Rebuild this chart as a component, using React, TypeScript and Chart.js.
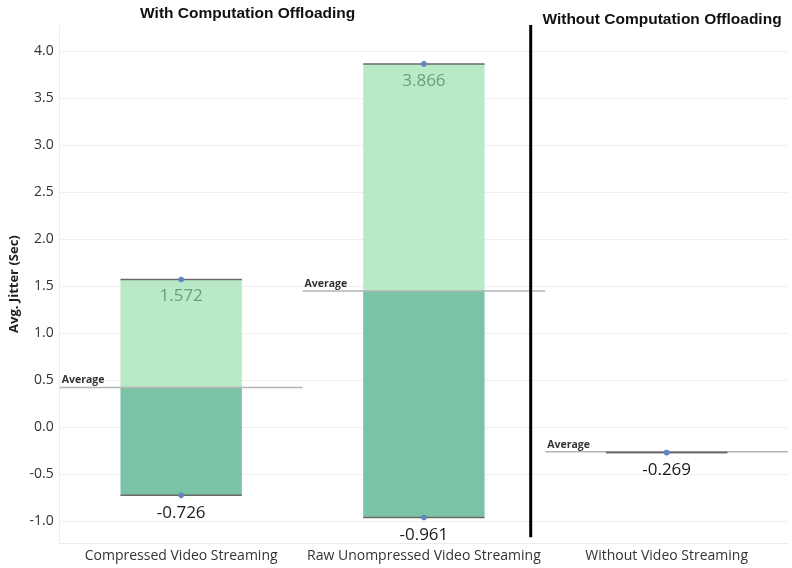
import React, { useEffect, useRef } from "react";
import { Chart, registerables } from "chart.js";

Chart.register(...registerables);

const categories = [
  "Compressed Video Streaming",
  "Raw Unompressed Video Streaming",
  "Without Video Streaming",
];
const minValues = [-0.726, -0.961, -0.269];
const maxValues = [1.572, 3.866, -0.269];
const avgValues = [0.423, 1.449, -0.262];
const yTicks = [-1.0, -0.5, 0.0, 0.5, 1.0, 1.5, 2.0, 2.5, 3.0, 3.5, 4.0];
const panelTitles = ["With Computation Offloading", "Without Computation Offloading"];
const averageLabel = "Average";
const yAxisTitle = "Avg. Jitter (Sec)";

const LIGHT = "#b9eac8";
const DARK = "#7ac3a6";
const DOT = "#5f86c0";
const FONT = "'Open Sans', 'Noto Sans', sans-serif";

const decorPlugin = {
  id: "decor",
  beforeDatasetDraw(chart: any, args: any) {
    if (args.index !== 1) return;
    const { ctx, scales } = chart;
    const x = scales.x;
    const y = scales.y;
    const barMeta = chart.getDatasetMeta(3);
    const half = barMeta.data[0] ? barMeta.data[0].width / 2 : 60;
    ctx.save();
    categories.forEach((_, i) => {
      const x1 = x.getPixelForValue(i - 0.5);
      const x2 = x.getPixelForValue(i + 0.5);
      const yy = y.getPixelForValue(avgValues[i]);
      ctx.strokeStyle = "#b5b5b5";
      ctx.lineWidth = 1.5;
      ctx.beginPath();
      ctx.moveTo(x1, yy);
      ctx.lineTo(x2, yy);
      ctx.stroke();
      ctx.fillStyle = "#333";
      ctx.font = `bold 10.5px ${FONT}`;
      ctx.textAlign = "left";
      ctx.textBaseline = "bottom";
      ctx.fillText(averageLabel, x1 + 2, yy - 2);
    });
    categories.forEach((_, i) => {
      const cx = x.getPixelForValue(i);
      ctx.strokeStyle = "#6a6a6a";
      ctx.lineWidth = 1.5;
      [minValues[i], maxValues[i]].forEach((v) => {
        const yy = y.getPixelForValue(v);
        ctx.beginPath();
        ctx.moveTo(cx - half, yy);
        ctx.lineTo(cx + half, yy);
        ctx.stroke();
      });
    });
    ctx.restore();
  },
  afterDatasetsDraw(chart: any) {
    const { ctx, scales, chartArea } = chart;
    const x = scales.x;
    const y = scales.y;
    ctx.save();
    ctx.textAlign = "center";
    ctx.textBaseline = "middle";
    categories.forEach((_, i) => {
      const cx = x.getPixelForValue(i);
      if (maxValues[i] !== minValues[i]) {
        ctx.fillStyle = "#6b9f7a";
        ctx.font = `17px ${FONT}`;
        ctx.fillText(maxValues[i].toFixed(3), cx, y.getPixelForValue(maxValues[i]) + 17);
      }
      ctx.fillStyle = "#1a1a1a";
      ctx.font = `17px ${FONT}`;
      ctx.fillText(minValues[i].toFixed(3), cx, y.getPixelForValue(minValues[i]) + 18);
    });
    const dx = x.getPixelForValue(1.44);
    ctx.strokeStyle = "#000";
    ctx.lineWidth = 3;
    ctx.beginPath();
    ctx.moveTo(dx, chartArea.top);
    ctx.lineTo(dx, chartArea.bottom - 6);
    ctx.stroke();
    ctx.fillStyle = "#111";
    ctx.font = "bold 15.5px 'Liberation Sans', Arial, sans-serif";
    const w = chartArea.right - chartArea.left;
    ctx.fillText(panelTitles[0], chartArea.left + w * 0.258, 14);
    ctx.fillText(panelTitles[1], chartArea.left + w * 0.827, 20);
    ctx.restore();
  },
};

export default function App() {
  const ref = useRef<HTMLCanvasElement>(null);
  useEffect(() => {
    document.body.style.margin = "0";
    if (!ref.current) return;
    const chart = new Chart(ref.current, {
      data: {
        labels: categories,
        datasets: [
          {
            type: "line",
            data: maxValues,
            showLine: false,
            pointRadius: 2.8,
            pointBackgroundColor: DOT,
            pointBorderWidth: 0,
            order: 0,
          } as any,
          {
            type: "line",
            data: minValues,
            showLine: false,
            pointRadius: 2.8,
            pointBackgroundColor: DOT,
            pointBorderWidth: 0,
            order: 0,
          } as any,
          {
            type: "bar",
            data: categories.map((_, i) =>
              minValues[i] === maxValues[i] ? null : [avgValues[i], maxValues[i]]
            ),
            backgroundColor: LIGHT,
            grouped: false,
            barPercentage: 0.5,
            categoryPercentage: 1,
            order: 1,
          } as any,
          {
            type: "bar",
            data: categories.map((_, i) =>
              minValues[i] === maxValues[i] ? null : [minValues[i], avgValues[i]]
            ),
            backgroundColor: DARK,
            grouped: false,
            barPercentage: 0.5,
            categoryPercentage: 1,
            order: 1,
          } as any,
        ],
      },
      options: {
        animation: false,
        responsive: true,
        maintainAspectRatio: false,
        layout: { padding: { top: 25, right: 2, bottom: 0, left: 6 } },
        plugins: { legend: { display: false }, tooltip: { enabled: false } },
        scales: {
          x: {
            grid: { display: false, drawTicks: false },
            border: { display: true, color: "#ececec" },
            ticks: { color: "#333", font: { size: 14, family: FONT }, padding: 4 },
          },
          y: {
            min: -1.235,
            max: 4.28,
            afterBuildTicks: (s: any) => {
              s.ticks = yTicks.map((v) => ({ value: v }));
            },
            grid: { color: "#efefef", drawTicks: false },
            border: { display: true, color: "#ececec" },
            ticks: {
              color: "#333",
              font: { size: 14, family: FONT },
              padding: 6,
              callback: (v: any) => Number(v).toFixed(1),
            },
            title: {
              display: true,
              text: yAxisTitle,
              color: "#222",
              font: { size: 13, weight: "bold", family: FONT },
              padding: { top: 0, bottom: 2 },
            },
          },
        },
      },
      plugins: [decorPlugin],
    });
    return () => chart.destroy();
  }, []);
  return (
    <div style={{ width: 792, height: 568, position: "relative" }}>
      <canvas ref={ref} />
    </div>
  );
}
